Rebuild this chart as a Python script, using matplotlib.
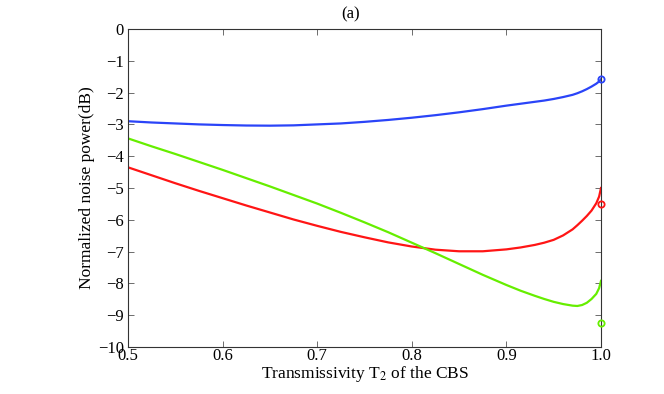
import matplotlib
matplotlib.use("Agg")
import matplotlib.pyplot as plt
import numpy as np

plt.rcParams['font.family'] = ['Liberation Serif', 'DejaVu Serif']
plt.rcParams['mathtext.fontset'] = 'stix'

x_vals = [0.5, 0.525, 0.55, 0.575, 0.6, 0.625, 0.65, 0.675, 0.7, 0.725, 0.75, 0.775, 0.8, 0.825, 0.85, 0.875,
          0.9, 0.915, 0.93, 0.94, 0.95, 0.96, 0.97, 0.975, 0.98, 0.985, 0.99, 0.995, 0.998, 1.0]
blue_vals = [-2.90, -2.94, -2.97, -3.00, -3.02, -3.035, -3.04, -3.03, -3.00, -2.97, -2.92, -2.86, -2.79, -2.71,
             -2.62, -2.52, -2.41, -2.35, -2.29, -2.25, -2.20, -2.14, -2.07, -2.02, -1.96, -1.89, -1.81, -1.72,
             -1.65, -1.58]
red_vals = [-4.35, -4.60, -4.85, -5.09, -5.32, -5.55, -5.77, -5.99, -6.19, -6.38, -6.55, -6.71, -6.84, -6.94,
            -6.99, -6.99, -6.93, -6.87, -6.79, -6.72, -6.63, -6.49, -6.30, -6.17, -6.03, -5.88, -5.71, -5.48,
            -5.27, -5.00]
green_vals = [-3.44, -3.69, -3.93, -4.18, -4.43, -4.69, -4.95, -5.22, -5.49, -5.78, -6.08, -6.39, -6.72, -7.05,
              -7.39, -7.73, -8.05, -8.23, -8.39, -8.49, -8.58, -8.65, -8.70, -8.71, -8.68, -8.61, -8.49, -8.33,
              -8.15, -7.92]

marker_x = [1.0, 1.0, 1.0]
marker_y = [-1.57, -5.50, -9.25]

colors = ['#2a44f8', '#ff1515', '#66ee00']
x_ticks = [0.5, 0.6, 0.7, 0.8, 0.9, 1.0]
y_ticks = [0, -1, -2, -3, -4, -5, -6, -7, -8, -9, -10]

fig = plt.figure(figsize=(6.64, 3.94), dpi=100)
ax = fig.add_axes([128/664, 1-347/394, (601-128)/664, (347-29)/394])

for yv, c in zip([blue_vals, red_vals, green_vals], colors):
    ax.plot(x_vals, yv, color=c, lw=1.6, solid_joinstyle='round')
for mx, my, c in zip(marker_x, marker_y, colors):
    ax.plot([mx], [my], 'o', mfc='none', mec=c, ms=4.5, mew=1.3, clip_on=False, zorder=5)

ax.set_xlim(0.5, 1.0)
ax.set_ylim(-10, 0)
ax.set_xticks(x_ticks)
ax.set_xticklabels([f"{t:.1f}" for t in x_ticks])
ax.set_yticks(y_ticks)
ax.set_yticklabels([str(t).replace('-', '\u2212') for t in y_ticks])
ax.tick_params(direction='in', top=True, right=True, length=4, width=0.6,
               labelsize=12, color='#555555')
ax.tick_params(axis='x', pad=1)
ax.tick_params(axis='y', pad=3)
for s in ax.spines.values():
    s.set_color('#333333')
    s.set_linewidth(0.8)

ax.set_xlabel('Transmissivity T$_2$ of the CBS', fontsize=12.5, labelpad=0)
ax.set_ylabel('Normalized noise power(dB)', fontsize=12.5, labelpad=2)
fig.text(351/664, 1-14/394, '(a)', ha='center', va='center', fontsize=12)

fig.savefig('out.png', dpi=100)
